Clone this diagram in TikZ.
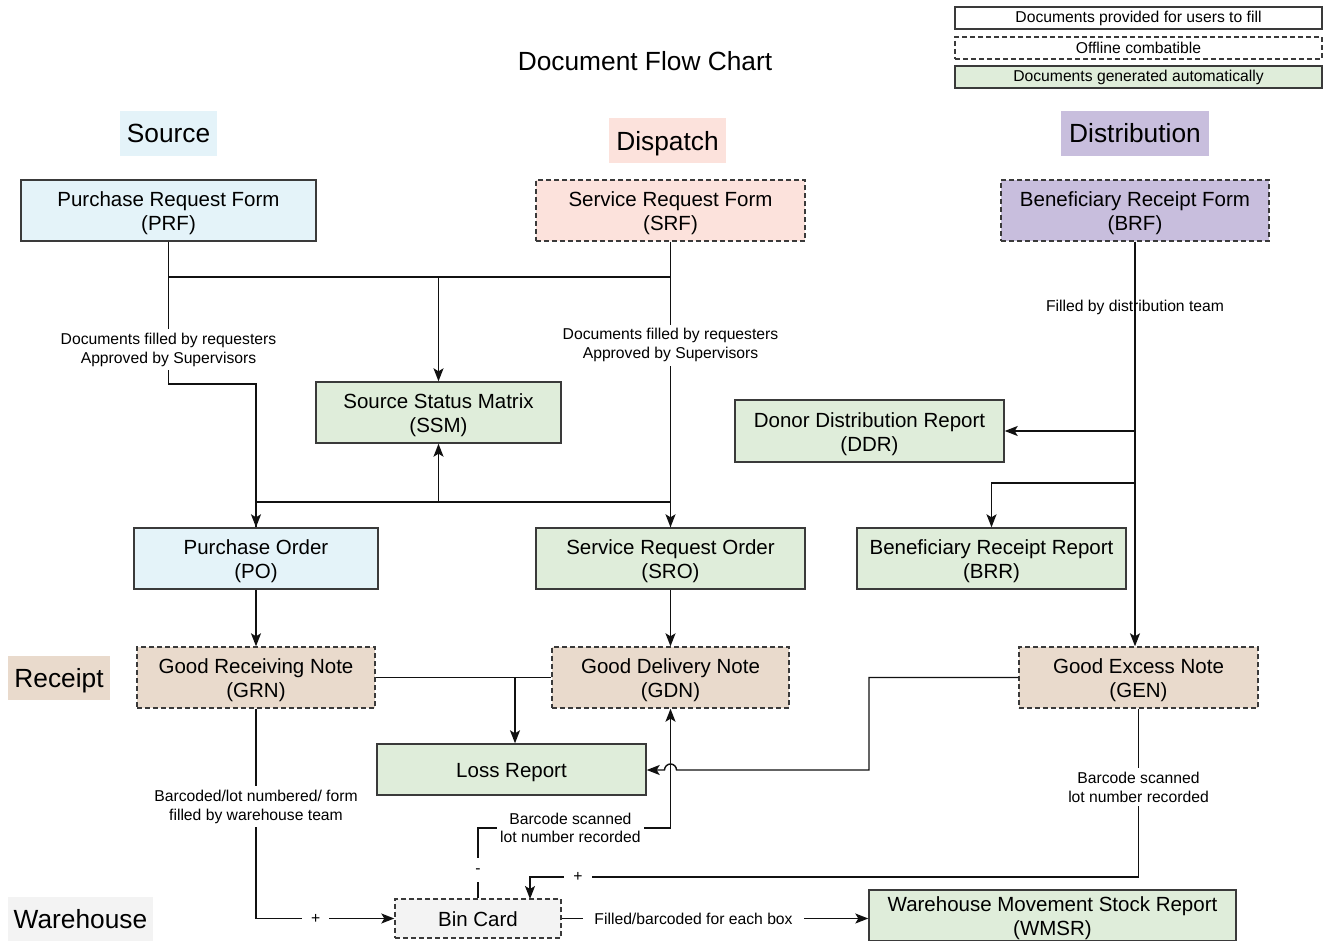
\documentclass[tikz,border=0pt]{standalone}
\usepackage{fontspec}
\setmainfont{Liberation Sans}
\usetikzlibrary{arrows.meta}
\definecolor{cblue}{HTML}{E4F3F9}
\definecolor{cpink}{HTML}{FCE2DC}
\definecolor{clav}{HTML}{C8BEDD}
\definecolor{ctan}{HTML}{E9DACC}
\definecolor{cgreen}{HTML}{DFEDDA}
\definecolor{cgray}{HTML}{F3F3F3}
\definecolor{cline}{HTML}{111111}
\definecolor{cborder}{HTML}{3A3A3A}
\newcommand{\dT}{\rule{0pt}{21pt}}
\tikzset{
  doc/.style={draw=cborder, line width=1.4pt, rectangle, align=center, inner sep=0pt,
    font=\fontsize{20.5}{24}\selectfont},
  offl/.style={dash pattern=on 5pt off 3pt},
  sect/.style={rectangle, inner sep=0pt, font=\fontsize{26.3}{30}\selectfont},
  leg/.style={draw=cborder, line width=1.1pt, rectangle, inner sep=0pt, minimum width=367pt,
    minimum height=22pt, font=\fontsize{15.7}{18}\selectfont},
  lbl/.style={fill=white, inner xsep=3pt, inner ysep=4pt, align=center, font=\fontsize{15.7}{18.5}\selectfont},
  pm/.style={fill=white, inner xsep=9pt, inner ysep=3pt, font=\fontsize{15.7}{18.5}\selectfont},
  conn/.style={draw=cline, line width=1.4pt},
  arr/.style={conn, -{Stealth[length=13pt,width=10pt,inset=3pt]}},
}
\begin{document}
\begin{tikzpicture}[x=1pt,y=-1pt]
\useasboundingbox[fill=white] (0,0) rectangle (1327,941);

% legend
\node[leg] (L1) at (1138.5,18) {Documents provided for users to fill};
\node[leg, offl] (L2) at (1138.5,48) {Offline combatible};
\node[leg, fill=cgreen] (L3) at (1138.5,77) {Documents generated automatically};

% title
\node[font=\fontsize{26.3}{30}\selectfont] (title) at (645,61) {Document Flow Chart};

% section labels
\node[sect, fill=cblue, minimum width=97pt, minimum height=45pt] (sSource) at (168.5,133.5) {Source};
\node[sect, fill=cpink, minimum width=117pt, minimum height=45pt] (sDispatch) at (667.5,140.5) {\rule{0pt}{25pt}Dispatch};
\node[sect, fill=clav, minimum width=148pt, minimum height=45pt] (sDist) at (1135,133.5) {Distribution};
\node[sect, fill=ctan, minimum width=102pt, minimum height=44pt] (sReceipt) at (59,678) {\rule{0pt}{24pt}Receipt};
\node[sect, fill=cgray, minimum width=145pt, minimum height=44pt] (sWare) at (80.5,919) {Warehouse};

% documents
\node[doc, fill=cblue, minimum width=295pt, minimum height=61pt] (PRF) at (168.5,210.5) {\dT Purchase Request Form\\(PRF)};
\node[doc, offl, fill=cpink, minimum width=269pt, minimum height=61pt] (SRF) at (670.5,210.5) {\dT Service Request Form\\(SRF)};
\node[doc, offl, fill=clav, minimum width=268pt, minimum height=61pt] (BRF) at (1135,210.5) {\dT Beneficiary Receipt Form\\(BRF)};
\node[doc, fill=cgreen, minimum width=245pt, minimum height=61pt] (SSM) at (438.5,412.5) {\dT Source Status Matrix\\(SSM)};
\node[doc, fill=cgreen, minimum width=269pt, minimum height=62pt] (DDR) at (869.5,431) {\dT Donor Distribution Report\\(DDR)};
\node[doc, fill=cblue, minimum width=244pt, minimum height=61pt] (PO) at (256,558.5) {\dT Purchase Order\\(PO)};
\node[doc, fill=cgreen, minimum width=269pt, minimum height=61pt] (SRO) at (670.5,558.5) {\dT Service Request Order\\(SRO)};
\node[doc, fill=cgreen, minimum width=269pt, minimum height=61pt] (BRR) at (991.5,558.5) {\dT Beneficiary Receipt Report\\(BRR)};
\node[doc, offl, fill=ctan, minimum width=238pt, minimum height=61pt] (GRN) at (256,677.5) {\dT Good Receiving Note\\(GRN)};
\node[doc, offl, fill=ctan, minimum width=237pt, minimum height=61pt] (GDN) at (670.5,677.5) {\dT Good Delivery Note\\(GDN)};
\node[doc, offl, fill=ctan, minimum width=239pt, minimum height=61pt] (GEN) at (1138.5,677.5) {\dT Good Excess Note\\(GEN)};
\node[doc, fill=cgreen, minimum width=269pt, minimum height=51pt] (LOSS) at (511.5,769.5) {\dT Loss Report};
\node[doc, offl, fill=cgray, minimum width=166pt, minimum height=39pt] (BIN) at (478,918.5) {\rule{0pt}{17pt}Bin Card};
\node[doc, fill=cgreen, minimum width=367pt, minimum height=51pt] (WMSR) at (1052.5,915.5) {\dT Warehouse Movement Stock Report\\(WMSR)};

% junctions
\coordinate (j1) at (438.5,277);
\coordinate (j2) at (438.5,502);
\coordinate (j3) at (1135,483);
\coordinate (j4) at (515,677.5);

% connectors
\draw[arr] (PRF.south) |- (j1) -- (SSM.north);
\draw[conn] (SRF.south) |- (j1);
\draw[arr] (PRF.south) -- node[lbl, pos=0.76] {Documents filled by requesters\\Approved by Supervisors} (168.5,384) -| (PO.north);
\draw[arr] (SRF.south) -- node[lbl, pos=0.362] {Documents filled by requesters\\Approved by Supervisors} (SRO.north);
\draw[arr] (PO.north) |- (j2) -- (SSM.south);
\draw[conn] (SRO.north) |- (j2);

\draw[arr] (BRF.south) |- (DDR.east);
\draw[arr] (j3) -| (BRR.north);
\draw[arr] (BRF.south) -- (BRF.south |- GEN.north);
\node[font=\fontsize{15.7}{18.5}\selectfont] (lblBRF) at (1135,307) {Filled by distribution team};

\draw[arr] (PO.south) -- (GRN.north);
\draw[arr] (SRO.south) -- (GDN.north);

\draw[arr] (GRN.east) -- (j4) -- (j4 |- LOSS.north);
\draw[conn] (GDN.west) -- (j4);

\draw[arr] (GEN.west) -- (869,677.5) -- (869,770) -- (676.5,770)
  arc[start angle=0, end angle=180, radius=6pt] -- (LOSS.east |- 0,770);

\draw[arr] (BIN.north) -- node[pm, pos=0.4] {\strut-} (478,828) -- node[lbl, pos=0.48] {Barcode scanned\\lot number recorded} (670.5,828) -- (GDN.south);

\draw[arr] (GEN.south) -- node[lbl, pos=0.468] {Barcode scanned\\lot number recorded} (1138.5,877) -- node[pm, pos=0.921] {+} (530,877) -- (530,899);

\draw[arr] (GRN.south) |- node[lbl, pos=0.234] {Barcoded/lot numbered/ form\\filled by warehouse team} node[pm, pos=0.716] {+} (BIN.west);

\draw[arr] (BIN.east) -- node[lbl, inner xsep=11pt, pos=0.43] {Filled/barcoded for each box} (BIN.east -| WMSR.west);
\end{tikzpicture}
\end{document}
